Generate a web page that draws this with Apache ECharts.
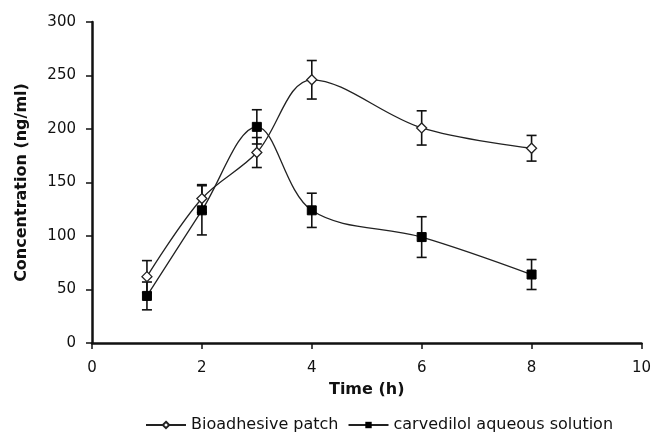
<!DOCTYPE html>
<html>
<head>
<meta charset="utf-8">
<script src="https://cdn.jsdelivr.net/npm/echarts@6/dist/echarts.min.js"></script>
<style>
  html, body { margin: 0; padding: 0; background: #fff; }
  #chart { width: 654px; height: 437px; }
</style>
</head>
<body>
<div id="chart"></div>
<script>
const times = [1, 2, 3, 4, 6, 8];
const patchMean = [62, 135, 178, 246, 201, 182];
const patchErr = [15, 13, 14, 18, 16, 12];
const solutionMean = [44, 124, 202, 124, 99, 64];
const solutionErr = [13, 23, 16, 16, 19, 14];
const xTicks = [0, 2, 4, 6, 8, 10];
const yTicks = [0, 50, 100, 150, 200, 250, 300];

const chart = echarts.init(document.getElementById('chart'));

function pairs(means) {
  return times.map((t, i) => [t, means[i]]);
}
function errData(means, errs) {
  return times.map((t, i) => [t, means[i] - errs[i], means[i] + errs[i]]);
}

// vertical error bars with caps
function renderErr(params, api) {
  const x = api.value(0);
  const lo = api.coord([x, api.value(1)]);
  const hi = api.coord([x, api.value(2)]);
  const w = 5;
  const style = { stroke: '#111', lineWidth: 1.6 };
  return {
    type: 'group',
    children: [
      { type: 'line', shape: { x1: lo[0], y1: lo[1], x2: hi[0], y2: hi[1] }, style },
      { type: 'line', shape: { x1: hi[0] - w, y1: hi[1], x2: hi[0] + w, y2: hi[1] }, style },
      { type: 'line', shape: { x1: lo[0] - w, y1: lo[1], x2: lo[0] + w, y2: lo[1] }, style }
    ]
  };
}

const font = 'DejaVu Sans, Liberation Sans, Arial';
const axisFont = { fontFamily: font, fontSize: 15, color: '#111' };

chart.setOption({
  animation: false,
  grid: { left: 92, right: 6, top: 22, bottom: 94 },
  legend: {
    top: 415,
    left: 143,
    itemGap: 9,
    itemWidth: 40,
    itemHeight: 8,
    padding: 2,
    textStyle: { fontFamily: font, fontSize: 16, color: '#111' },
    data: ['Bioadhesive patch', 'carvedilol aqueous solution']
  },
  xAxis: {
    type: 'value',
    min: 0, max: 10, interval: 2,
    name: 'Time (h)',
    nameLocation: 'middle',
    nameGap: 39,
    nameTextStyle: { fontFamily: font, fontSize: 16, fontWeight: 'bold', color: '#111' },
    axisLine: { lineStyle: { color: '#111', width: 2.5 } },
    axisTick: { show: true, length: 6, lineStyle: { color: '#111', width: 1.5 } },
    axisLabel: Object.assign({ margin: 18, customValues: xTicks }, axisFont),
    splitLine: { show: false }
  },
  yAxis: {
    type: 'value',
    min: 0, max: 300, interval: 50,
    name: 'Concentration (ng/ml)',
    nameLocation: 'middle',
    nameGap: 62,
    nameTextStyle: { fontFamily: font, fontSize: 16, fontWeight: 'bold', color: '#111' },
    axisLine: { show: true, lineStyle: { color: '#111', width: 2.5 } },
    axisTick: { show: true, length: 6, lineStyle: { color: '#111', width: 1.5 } },
    axisLabel: Object.assign({ margin: 16, customValues: yTicks }, axisFont),
    splitLine: { show: false }
  },
  series: [
    {
      name: 'Bioadhesive patch',
      type: 'line',
      smooth: 0.35,
      data: pairs(patchMean),
      symbol: 'diamond',
      symbolSize: 10,
      z: 3,
      lineStyle: { color: '#222', width: 1.3 },
      itemStyle: { color: '#fff', borderColor: '#222', borderWidth: 1.3 }
    },
    {
      name: 'carvedilol aqueous solution',
      type: 'line',
      smooth: 0.35,
      data: pairs(solutionMean),
      symbol: 'rect',
      symbolSize: 9,
      z: 3,
      lineStyle: { color: '#222', width: 1.3 },
      itemStyle: { color: '#000', borderColor: '#000' }
    },
    {
      type: 'custom',
      renderItem: renderErr,
      data: errData(patchMean, patchErr),
      z: 2,
      silent: true
    },
    {
      type: 'custom',
      renderItem: renderErr,
      data: errData(solutionMean, solutionErr),
      z: 2,
      silent: true
    }
  ]
});
</script>
</body>
</html>
